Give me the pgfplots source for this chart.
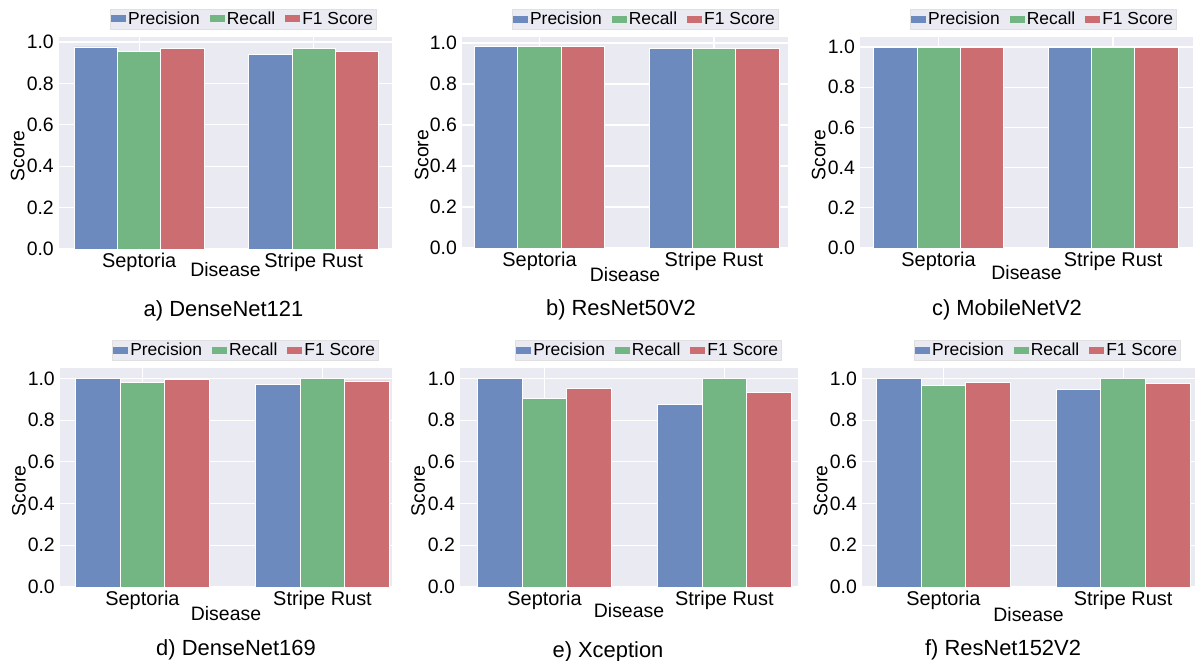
\documentclass[border=0pt]{standalone}
\usepackage{pgfplots}
\pgfplotsset{compat=1.18}
\usepackage{fontspec}
\setmainfont{Liberation Sans}
\definecolor{bgc}{HTML}{EAEAF2}
\definecolor{cP}{RGB}{108,138,189}
\definecolor{cR}{RGB}{115,181,131}
\definecolor{cF}{RGB}{204,109,114}
\pgfplotsset{
  panel/.style={
    scale only axis, anchor=south west,
    axis background/.style={fill=bgc},
    axis line style={draw=none},
    ymin=0, ytick={0,0.2,0.4,0.6,0.8,1.0},
    xtick={0,1}, xticklabels={Septoria,Stripe Rust},
    /pgf/number format/assume math mode=true,
    yticklabel style={/pgf/number format/fixed, /pgf/number format/fixed zerofill, /pgf/number format/precision=1,
      inner sep=0pt, anchor=east, xshift=-5bp},
    grid=major, major grid style={white, line width=1.2bp},
    major tick length=0pt,
    tick label style={font=\fontsize{19.5}{19.5}\selectfont},
    xticklabel style={inner sep=0pt, anchor=north, yshift=-4bp, font=\fontsize{20}{20}\selectfont},
    xlabel={Disease}, ylabel={Score},
    every axis x label/.style={at={(axis description cs:0.5,0)}, anchor=north, inner sep=0pt, font=\fontsize{19.5}{19.5}\selectfont},
    every axis y label/.style={at={(axis description cs:-0.124,0.44)}, rotate=90, anchor=center, inner sep=0pt, font=\fontsize{19.5}{19.5}\selectfont},
    legend columns=3,
    legend style={anchor=west, fill=bgc, draw=black!12, font=\fontsize{17.5}{17.5}\selectfont,
      inner sep=1bp, row sep=0pt,
      /tikz/every even column/.append style={column sep=8bp}},
    legend image code/.code={\fill[##1, draw=none] (0bp,-3.5bp) rectangle (15bp,3.5bp);},
  },
  bP/.style={ybar, bar width=0.248, bar shift=-0.248, fill=cP, draw=white, line width=0.8bp},
  bR/.style={ybar, bar width=0.248, bar shift=0, fill=cR, draw=white, line width=0.8bp},
  bF/.style={ybar, bar width=0.248, bar shift=0.248, fill=cF, draw=white, line width=0.8bp},
}
\begin{document}
\begin{tikzpicture}
\path[use as bounding box] (0,0) rectangle (1195bp,661bp);
% a) DenseNet121
\begin{axis}[panel, at={(59bp,412bp)}, width=333bp, height=212bp,
  xmin=-0.46, xmax=1.45, ymax=1.024,
  legend style={at={(0.153,1.085)}}, xlabel style={yshift=-13bp}]
\addplot[bP] coordinates {(0,0.976) (1,0.939)};
\addplot[bR] coordinates {(0,0.956) (1,0.968)};
\addplot[bF] coordinates {(0,0.968) (1,0.953)};
\legend{Precision,Recall,F1 Score}
\end{axis}
% b) ResNet50V2
\begin{axis}[panel, at={(462bp,413bp)}, width=326bp, height=211bp,
  xmin=-0.444, xmax=1.424, ymax=1.029,
  legend style={at={(0.153,1.085)}}, xlabel style={yshift=-19bp}]
\addplot[bP] coordinates {(0,0.981) (1,0.972)};
\addplot[bR] coordinates {(0,0.981) (1,0.972)};
\addplot[bF] coordinates {(0,0.981) (1,0.972)};
\legend{Precision,Recall,F1 Score}
\end{axis}
% c) MobileNetV2
\begin{axis}[panel, at={(860bp,413bp)}, width=333bp, height=211bp,
  xmin=-0.45, xmax=1.458, ymax=1.05,
  legend style={at={(0.150,1.085)}}, xlabel style={yshift=-17bp}]
\addplot[bP] coordinates {(0,1.0) (1,1.0)};
\addplot[bR] coordinates {(0,1.0) (1,1.0)};
\addplot[bF] coordinates {(0,1.0) (1,1.0)};
\legend{Precision,Recall,F1 Score}
\end{axis}
% d) DenseNet169
\begin{axis}[panel, at={(60bp,74bp)}, width=332bp, height=219bp,
  xmin=-0.458, xmax=1.386, ymax=1.05,
  legend style={at={(0.157,1.082)}}, xlabel style={yshift=-19bp}]
\addplot[bP] coordinates {(0,1.0) (1,0.973)};
\addplot[bR] coordinates {(0,0.982) (1,1.0)};
\addplot[bF] coordinates {(0,0.994) (1,0.988)};
\legend{Precision,Recall,F1 Score}
\end{axis}
% e) Xception
\begin{axis}[panel, at={(460bp,74bp)}, width=338bp, height=219bp,
  xmin=-0.47, xmax=1.41, ymax=1.05,
  legend style={at={(0.163,1.082)}}, xlabel style={yshift=-16bp}]
\addplot[bP] coordinates {(0,1.0) (1,0.876)};
\addplot[bR] coordinates {(0,0.905) (1,1.0)};
\addplot[bF] coordinates {(0,0.953) (1,0.934)};
\legend{Precision,Recall,F1 Score}
\end{axis}
% f) ResNet152V2
\begin{axis}[panel, at={(862bp,74bp)}, width=333bp, height=219bp,
  xmin=-0.453, xmax=1.40, ymax=1.05,
  legend style={at={(0.156,1.082)}}, xlabel style={yshift=-20bp}]
\addplot[bP] coordinates {(0,1.0) (1,0.949)};
\addplot[bR] coordinates {(0,0.965) (1,1.0)};
\addplot[bF] coordinates {(0,0.982) (1,0.974)};
\legend{Precision,Recall,F1 Score}
\end{axis}
\begin{scope}[every node/.style={font=\fontsize{22}{22}\selectfont}]
\node at (223.5bp,350bp) {a) DenseNet121};
\node at (621bp,351bp) {b) ResNet50V2};
\node at (1007bp,351bp) {c) MobileNetV2};
\node at (236bp,11bp) {d) DenseNet169};
\node at (608bp,9bp) {e) Xception};
\node at (1003bp,11bp) {f) ResNet152V2};
\end{scope}
\end{tikzpicture}
\end{document}
